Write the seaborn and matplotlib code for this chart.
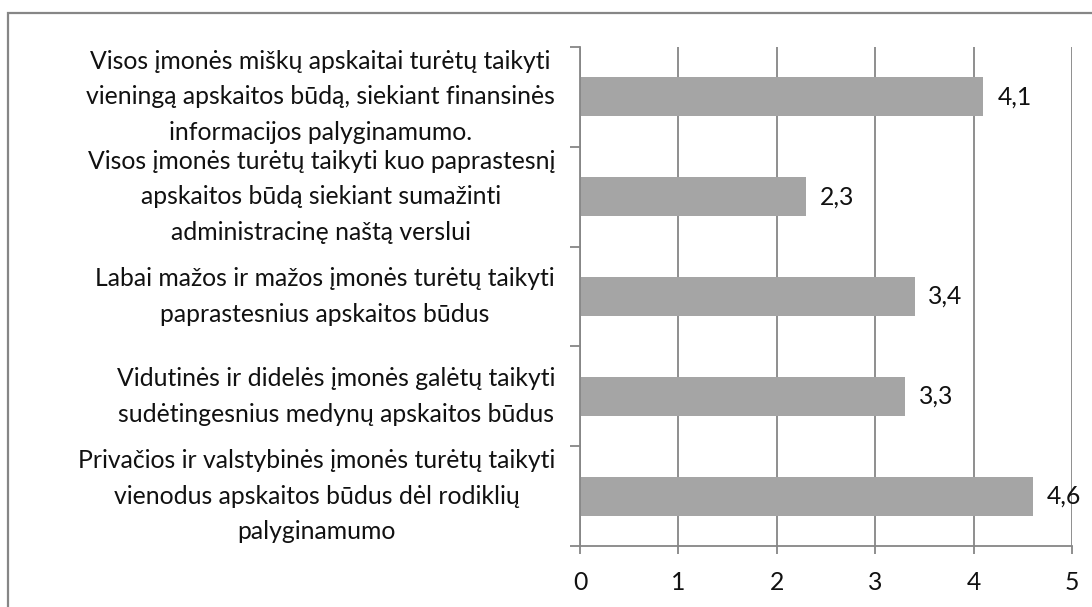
import matplotlib
matplotlib.use("Agg")
import matplotlib.pyplot as plt
from matplotlib.patches import Rectangle
from matplotlib.ticker import FixedLocator
import seaborn as sns
import pandas as pd

# Survey statements (top to bottom) and their mean agreement scores
statements = [
    "Visos įmonės miškų apskaitai turėtų taikyti\nvieningą apskaitos būdą, siekiant finansinės\ninformacijos palyginamumo.",
    "Visos įmonės turėtų taikyti kuo paprastesnį\napskaitos būdą siekiant sumažinti\nadministracinę naštą verslui",
    "Labai mažos ir mažos įmonės turėtų taikyti\npaprastesnius apskaitos būdus",
    "Vidutinės ir didelės įmonės galėtų taikyti\nsudėtingesnius medynų apskaitos būdus",
    "Privačios ir valstybinės įmonės turėtų taikyti\nvienodus apskaitos būdus dėl rodiklių\npalyginamumo",
]
scores = [4.1, 2.3, 3.4, 3.3, 4.6]
x_ticks = [0, 1, 2, 3, 4, 5]

sns.set_theme(style="white")
plt.rcParams["font.family"] = ["Lato", "DejaVu Sans"]

W, H = 1092, 607
fig = plt.figure(figsize=(W / 100, H / 100), dpi=100)
fig.patch.set_facecolor("white")

left_px, right_px, top_px, bottom_px = 580, 1072, 47, 546
ax = fig.add_axes([left_px / W, 1 - bottom_px / H,
                   (right_px - left_px) / W, (bottom_px - top_px) / H])

df = pd.DataFrame({"statement": statements, "score": scores})
sns.barplot(data=df, x="score", y="statement", orient="h", color="#a5a5a5",
            saturation=1, width=0.39, ax=ax, linewidth=0)

grey = "#868686"
txt = "#111111"
fs = 17.8

ax.set_xlim(0, 5)
ax.set_ylim(len(statements) - 0.5, -0.5)
ax.set_xticks(x_ticks)
ax.set_xticklabels([str(t) for t in x_ticks])
ax.set_xlabel("")
ax.set_ylabel("")

# Vertical gridlines behind bars
ax.set_axisbelow(True)
ax.xaxis.grid(True, color=grey, linewidth=1.3)
ax.yaxis.grid(False)

for side in ("top", "right"):
    ax.spines[side].set_visible(False)
for side in ("left", "bottom"):
    ax.spines[side].set_color(grey)
    ax.spines[side].set_linewidth(1.3)

# Category boundary ticks on the y axis
ax.yaxis.set_minor_locator(FixedLocator([i - 0.5 for i in range(len(statements) + 1)]))
ax.tick_params(axis="y", which="minor", left=True, length=7, width=1.3, color=grey)
ax.tick_params(axis="y", which="major", left=False, length=0, pad=18, labelsize=fs,
               labelcolor=txt)
ax.tick_params(axis="x", which="major", bottom=True, length=6, width=1.3, color=grey,
               pad=12, labelsize=fs, labelcolor=txt)
for lab in ax.get_yticklabels():
    lab.set_multialignment("center")
    lab.set_verticalalignment("center")
    lab.set_linespacing(1.66)

# Value labels with decimal comma
for cont in ax.containers:
    ax.bar_label(cont, labels=[f"{v:.1f}".replace(".", ",") for v in scores],
                 padding=10, fontsize=fs, color=txt)

# Outer chart frame
fig.patches.append(Rectangle((7.5 / W, -0.05), 1.2, 1 - 12.5 / H + 0.05,
                             transform=fig.transFigure, fill=False,
                             edgecolor=grey, linewidth=1.6))

fig.savefig("out.png", dpi=100)
